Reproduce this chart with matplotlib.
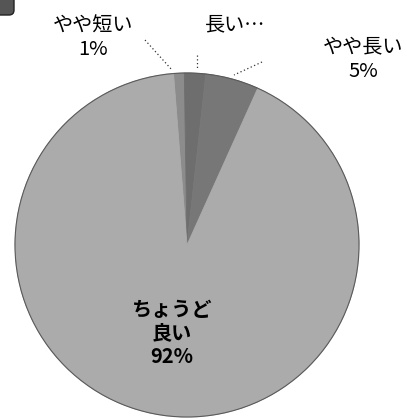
import matplotlib
matplotlib.use('Agg')
from matplotlib import pyplot as plt
from matplotlib.patches import FancyBboxPatch, Circle

plt.rcParams['font.family'] = ['Noto Sans CJK JP', 'DejaVu Sans']

# data (clockwise from the top)
labels = ['やや短い', '長い…', 'やや長い', 'ちょうど\n良い']
values = [1, 2, 5, 92]
colors = ['#8c8c8c', '#6e6e6e', '#777777', '#ababab']

fig = plt.figure(figsize=(4.07, 4.2), dpi=100)
ax = fig.add_axes([0, 0, 1, 1])

cx, cy, r = 187, 175, 172
wedges, _ = ax.pie(values, colors=colors, startangle=94.5, counterclock=False,
                   center=(cx, cy), radius=r, frame=True)
for w, c in zip(wedges, colors):
    w.set_edgecolor(c)
    w.set_linewidth(0.6)
ax.add_patch(Circle((cx, cy), r, fill=False, ec='#5a5a5a', lw=0.8))

ax.set_xlim(0, 407)
ax.set_ylim(0, 420)
ax.set_aspect('equal')
ax.axis('off')

# outer labels
ax.text(93, 382, f'{labels[0]}\n{values[0]}%', ha='center', va='center',
        fontsize=14.5, linespacing=1.15)
ax.text(235, 395, labels[1], ha='center', va='center', fontsize=14.5)
ax.text(363, 361, f'{labels[2]}\n{values[2]}%', ha='center', va='center',
        fontsize=14.5, linespacing=1.25)
ax.text(172, 87, f'{labels[3]}\n{values[3]}%', ha='center', va='center',
        fontsize=14.5, linespacing=1.15, fontweight='bold')

# dotted leader lines
lk = dict(color='#333333', lw=0.9, ls=(0, (1, 2)))
ax.plot([145, 172], [380, 350], **lk)
ax.plot([197, 197], [365, 350], **lk)
ax.plot([262, 234], [358, 345], **lk)

# scan corner mark
ax.add_patch(FancyBboxPatch((-10, 405), 24, 20, boxstyle='round,pad=0,rounding_size=5',
                            fc='#555555', ec='#222222', lw=1))

fig.savefig('out.png', dpi=100)
